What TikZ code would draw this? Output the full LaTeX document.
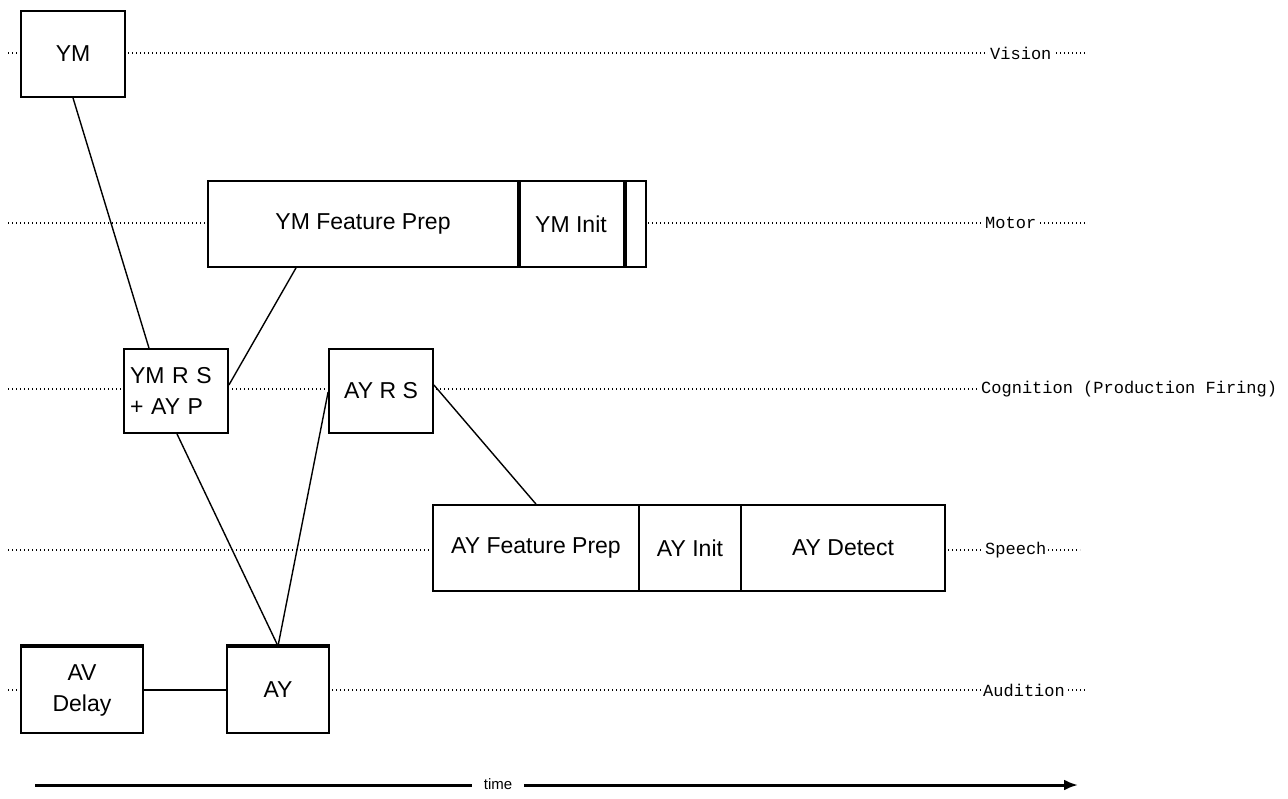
\documentclass[tikz,border=0pt]{standalone}
\usepackage{fontspec}
\setmainfont{Liberation Sans}
\newfontfamily\lblfont{Liberation Mono}
\usetikzlibrary{arrows.meta,backgrounds}
\begin{document}
\begin{tikzpicture}[x=1pt,y=-1pt,
  box/.style={draw,line width=1.8pt,fill=white,inner sep=0pt,minimum height=86pt,
    font=\fontsize{23}{31}\selectfont,align=center},
  lbl/.style={anchor=west,fill=white,inner sep=2pt,font=\lblfont\fontsize{17}{18}\selectfont},
  dotline/.style={line width=1.3pt,dash pattern=on 1.4pt off 2.6pt},
  conn/.style={line width=1.4pt},
  thickbar/.style={line width=4pt}]
\useasboundingbox (0,0) rectangle (1288,798);
% boxes
\node[box,minimum width=104pt] (vm) at (73,54) {YM};
\node[box,minimum width=310pt] (ymfp) at (363,224) {YM Feature Prep};
\node[box,minimum width=106pt] (ymi) at (571,224) {YM Init};
\node[box,minimum width=22pt] (ymx) at (635,224) {};
\node[box,minimum width=104pt,minimum height=84pt,text width=92pt,align=left] (vmrs) at (176,391) {YM R S\\+ AY P};
\node[box,minimum width=104pt,minimum height=84pt] (ayrs) at (381,391) {AY R S};
\node[box,minimum width=206pt] (afp) at (536,548) {AY Feature Prep};
\node[box,minimum width=102pt] (ai) at (690,548) {AY Init};
\node[box,minimum width=204pt] (ad) at (843,548) {AY Detect};
\node[box,minimum width=122pt,minimum height=86pt] (avd) at (82,690) {AV\\Delay};
\node[box,minimum width=102pt,minimum height=86pt] (ay) at (278,690) {AY};
% row labels
\node[lbl] (vis) at (988,53) {Vision};
\node[lbl] (mot) at (983,223) {Motor};
\node[lbl] (cog) at (979,389) {Cognition (Production Firing)};
\node[lbl] (spe) at (983,550) {Speech};
\node[lbl] (aud) at (981,690) {Audition};
% dotted rows behind
\begin{pgfonlayer}{background}
\coordinate (v0) at (8,53);   \coordinate (v1) at (1086,53);
\coordinate (m0) at (8,223);  \coordinate (m1) at (1086,223);
\coordinate (c0) at (8,389);
\coordinate (s0) at (8,550);  \coordinate (s1) at (1080,550);
\coordinate (a0) at (8,690);  \coordinate (a1) at (1087,690);
\draw[dotline] (v0) -- (v1);
\draw[dotline] (m0) -- (m1);
\draw[dotline] (c0) -- (cog.west);
\draw[dotline] (s0) -- (s1);
\draw[dotline] (a0) -- (a1);
\end{pgfonlayer}
% thick dividers and tops
\draw[thickbar] (ymfp.north east) -- (ymfp.south east);
\draw[thickbar] (ymi.north east) -- (ymi.south east);
\draw[thickbar] (avd.north west) -- (avd.north east);
\draw[thickbar] (ay.north west) -- (ay.north east);
% connectors
\draw[conn] (vm.south) -- ([xshift=-27pt]vmrs.north);
\draw[conn] ([yshift=6pt]vmrs.east) -- ([xshift=-67pt]ymfp.south);
\draw[conn] ([xshift=1pt]vmrs.south) -- (ay.north);
\draw[conn] ([yshift=-1pt]ayrs.west) -- (ay.north);
\draw[conn] ([yshift=6pt]ayrs.east) -- (afp.north);
\draw[conn] (avd.east) -- (ay.west);
% time axis
\node[inner sep=0pt,font=\fontsize{15}{16}\selectfont] (tl) at (498,784) {time};
\coordinate (t0) at (35,785);
\coordinate (t1) at (1078,785);
\draw[line width=3pt] (t0) -- ([xshift=-12pt]tl.west |- t0);
\draw[line width=3pt,-{Latex[length=14pt,width=11pt]}] ([xshift=12pt]tl.east |- t0) -- (t1);
\end{tikzpicture}
\end{document}
